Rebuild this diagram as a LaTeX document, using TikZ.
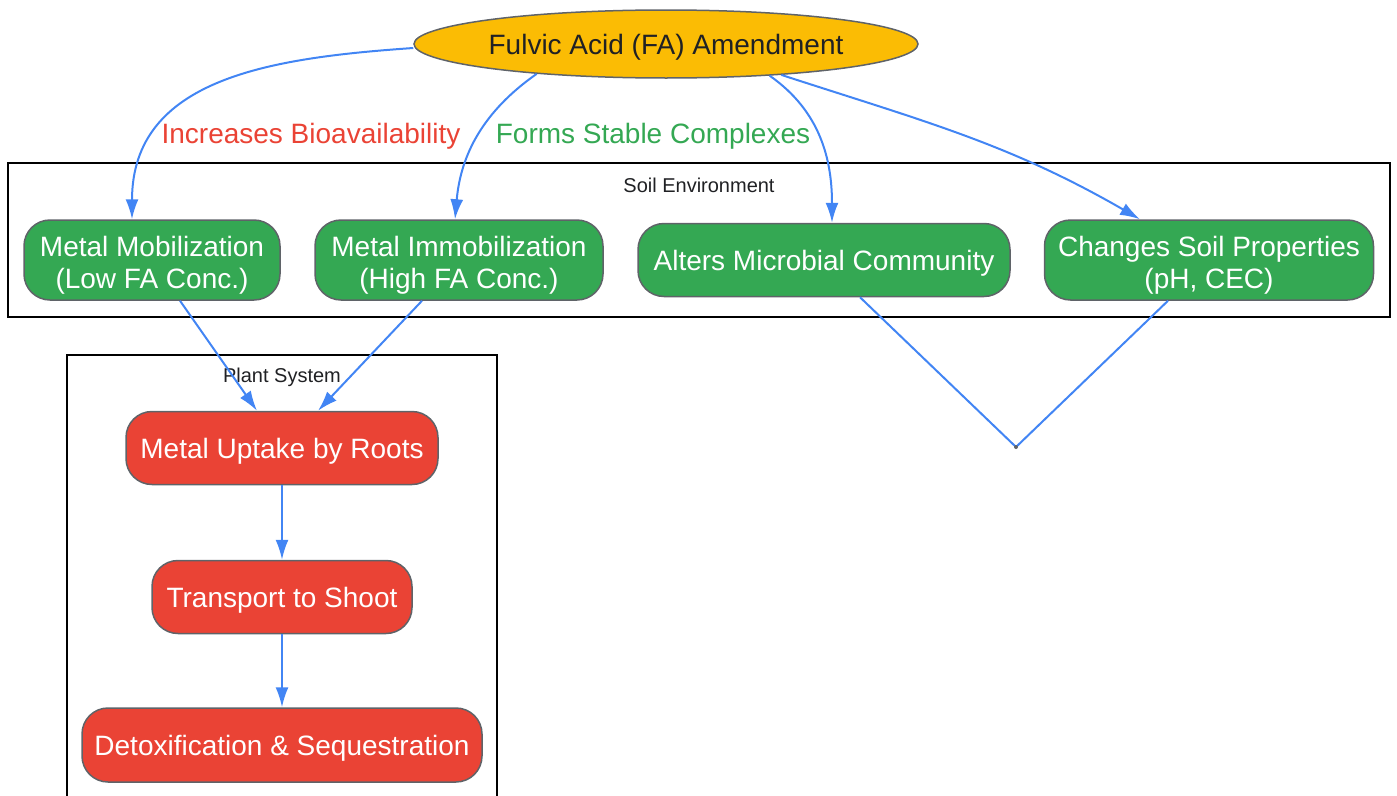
\documentclass[tikz,border=0pt]{standalone}
\usepackage{fontspec}
\setmainfont{Liberation Sans}
\usetikzlibrary{arrows.meta,shapes.geometric}

\definecolor{gyellow}{HTML}{FBBC04}
\definecolor{ggreen}{HTML}{34A853}
\definecolor{gred}{HTML}{EA4335}
\definecolor{gblue}{HTML}{4285F4}
\definecolor{gborder}{HTML}{5F6368}
\definecolor{gtext}{HTML}{202124}

\newcommand{\upstrut}{\rule{0pt}{27pt}}
\newcommand{\twostrut}{\rule{0pt}{31pt}}

\tikzset{
  box/.style={draw=gborder, line width=1.5pt, rounded corners=26pt, text=white,
    align=center, inner sep=4pt, font=\fontsize{28}{32}\selectfont},
  soil/.style={box, fill=ggreen},
  plant/.style={box, fill=gred},
  link/.style={draw=gblue, line width=2pt},
  frame/.style={draw=black, line width=2pt},
  title/.style={text=gtext, font=\fontsize{20}{24}\selectfont}
}

\begin{document}
\begin{tikzpicture}[x=1pt, y=1pt, >={Latex[length=20pt,width=13pt]}]
		\useasboundingbox (0,0) rectangle (1397,-795);

		% Рамки
		\draw[frame] (8,-163) rectangle (1390,-317);
		\node[title] (soiltitle) at (699,-185) {Soil Environment};
		\draw[frame] (67,-355) rectangle (497,-810);
		\node[title] (planttitle) at (282,-377) {Plant System};

		% Исходный узел
		\node[ellipse, draw=gborder, line width=1.5pt, fill=gyellow, text=gtext,
			minimum width=504, minimum height=68, inner sep=0pt,
			font=\fontsize{28}{32}\selectfont] (fa) at (666,-44) {\upstrut Fulvic Acid (FA) Amendment};

		% Почва
		\node[soil, minimum width=256, minimum height=80] (mob) at (152,-260) {\twostrut Metal Mobilization\\(Low FA Conc.)};
		\node[soil, minimum width=288, minimum height=80] (immob) at (459,-260) {\twostrut Metal Immobilization\\(High FA Conc.)};
		\node[soil, minimum width=372, minimum height=73] (micro) at (824,-260) {\upstrut Alters Microbial Community};
		\node[soil, minimum width=329, minimum height=80] (props) at (1209,-260) {\twostrut Changes Soil Properties\\(pH, CEC)};

		% Растение
		\node[plant, minimum width=312, minimum height=73] (uptake) at (282,-448) {\upstrut Metal Uptake by Roots};
		\node[plant, minimum width=260, minimum height=73] (transport) at (282,-597) {\upstrut Transport to Shoot};
		\node[plant, minimum width=400, minimum height=74] (detox) at (282,-745) {\upstrut Detoxification \& Sequestration};

		% Связи
		\draw[link, ->] ([yshift=-4]fa.west) to[out=184, in=90, looseness=1.1] ([xshift=-20]mob.north);
		\draw[link, ->] (fa.193) to[out=215, in=85] ([xshift=-4]immob.north);
		\draw[link, ->] (fa.343) to[out=-35, in=90] ([xshift=8]micro.north);
		\draw[link, ->] (fa.345) to[out=-18, in=150] ([xshift=-69]props.north);

		\node[text=gred, font=\fontsize{28}{32}\selectfont] (lbl1) at (311,-136) {Increases Bioavailability};
		\node[text=ggreen, font=\fontsize{28}{32}\selectfont] (lbl2) at (653,-136) {Forms Stable Complexes};

		\draw[link, ->] ([xshift=28]mob.south) -- ([xshift=-25]uptake.north);
		\draw[link, ->] ([xshift=-37]immob.south) -- ([xshift=36]uptake.north);
		\draw[link, ->] (uptake) -- (transport);
		\draw[link, ->] (transport) -- (detox);

		% Соединение без стрелки
		\coordinate (junc) at (1016,-447);
		\draw[link] ([xshift=36]micro.south) -- (junc) -- ([xshift=-41]props.south);
		\fill[gborder] (junc) circle (2);
	\end{tikzpicture}
\end{document}
